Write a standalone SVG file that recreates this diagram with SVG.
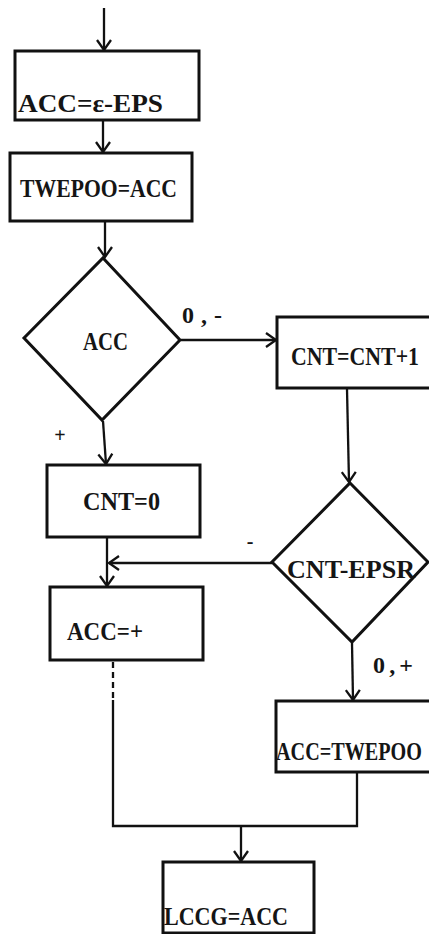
<svg xmlns="http://www.w3.org/2000/svg" width="429" height="934" viewBox="0 0 429 934">
<style>
  .box { fill: none; stroke: #111; stroke-width: 3; }
  .conn { fill: none; stroke: #111; stroke-width: 2.3; }
  .lbl { font-family: "Liberation Serif", "DejaVu Serif", serif; font-weight: bold; font-size: 26px; fill: #151515; }
  .small { font-family: "Liberation Serif", "DejaVu Serif", serif; font-weight: bold; font-size: 24px; fill: #151515; }
</style>
<defs>
  <marker id="arr" viewBox="-12 -9 14 18" refX="0" refY="0" markerWidth="14" markerHeight="18" markerUnits="userSpaceOnUse" orient="auto">
    <path d="M -10 -7 L 0 0 L -10 7" fill="none" stroke="#111" stroke-width="2.3"/>
  </marker>
</defs>
<rect width="429" height="934" fill="#ffffff"/>

<g id="connectors">
  <line class="conn" x1="104" y1="8" x2="104" y2="50" marker-end="url(#arr)"/>
  <line class="conn" x1="103" y1="121" x2="103" y2="152" marker-end="url(#arr)"/>
  <line class="conn" x1="105" y1="222" x2="105" y2="257" marker-end="url(#arr)"/>
  <line class="conn" x1="181" y1="340" x2="276" y2="340" marker-end="url(#arr)"/>
  <line class="conn" x1="347" y1="389" x2="349" y2="482" marker-end="url(#arr)"/>
  <line class="conn" x1="103" y1="421" x2="106" y2="464" marker-end="url(#arr)"/>
  <line class="conn" x1="272" y1="563" x2="109" y2="563" marker-end="url(#arr)"/>
  <line class="conn" x1="107" y1="538" x2="107" y2="586" marker-end="url(#arr)"/>
  <line class="conn" x1="352" y1="643" x2="353" y2="700" marker-end="url(#arr)"/>
  <line class="conn" x1="113" y1="662" x2="113" y2="700" stroke-dasharray="6 4"/>
  <polyline class="conn" points="113,700 113,826 357,826 357,773"/>
  <line class="conn" x1="241" y1="826" x2="241" y2="861" marker-end="url(#arr)"/>
  <text class="small" x="182" y="323" textLength="40" lengthAdjust="spacing">0,-</text>
  <text class="small" x="60" y="442" text-anchor="middle" style="font-size:20px">+</text>
  <text class="small" x="250" y="548" text-anchor="middle" style="font-size:20px">-</text>
  <text class="small" x="373" y="673" textLength="40" lengthAdjust="spacing">0,+</text>
</g>

<g id="n1">
  <rect class="box" x="15" y="51" width="184" height="69"/>
  <text class="lbl" x="18" y="112" textLength="145" lengthAdjust="spacingAndGlyphs">ACC=ε-EPS</text>
</g>
<g id="n2">
  <rect class="box" x="10" y="153" width="182" height="68"/>
  <text class="lbl" x="20" y="197" textLength="157" lengthAdjust="spacingAndGlyphs">TWEPOO=ACC</text>
</g>
<g id="d1">
  <polygon class="box" points="103,258 180,340 102,420 24,338"/>
  <text class="lbl" x="83" y="350" textLength="45" lengthAdjust="spacingAndGlyphs">ACC</text>
</g>
<g id="n3">
  <rect class="box" x="277" y="317" width="170" height="71"/>
  <text class="lbl" style="font-size:22px" transform="translate(291 365) scale(1 1.18)" x="0" y="0" textLength="128" lengthAdjust="spacingAndGlyphs">CNT=CNT+1</text>
</g>
<g id="n4">
  <rect class="box" x="47" y="465" width="153" height="72"/>
  <text class="lbl" x="83" y="510" textLength="77" lengthAdjust="spacingAndGlyphs">CNT=0</text>
</g>
<g id="d2">
  <polygon class="box" points="350,483 428,562 352,642 272,562"/>
  <text class="lbl" x="287" y="578" textLength="128" lengthAdjust="spacingAndGlyphs">CNT-EPSR</text>
</g>
<g id="n5">
  <rect class="box" x="50" y="587" width="153" height="73"/>
  <text class="lbl" x="67" y="640" textLength="76" lengthAdjust="spacingAndGlyphs">ACC=+</text>
</g>
<g id="n6">
  <rect class="box" x="276" y="701" width="170" height="71"/>
  <text class="lbl" style="font-size:20px" transform="translate(276 760) scale(1 1.3)" x="0" y="0" textLength="146" lengthAdjust="spacingAndGlyphs">ACC=TWEPOO</text>
</g>
<g id="n7">
  <rect class="box" x="163" y="862" width="151" height="71"/>
  <text class="lbl" x="164" y="925" textLength="124" lengthAdjust="spacingAndGlyphs">LCCG=ACC</text>
</g>
</svg>
